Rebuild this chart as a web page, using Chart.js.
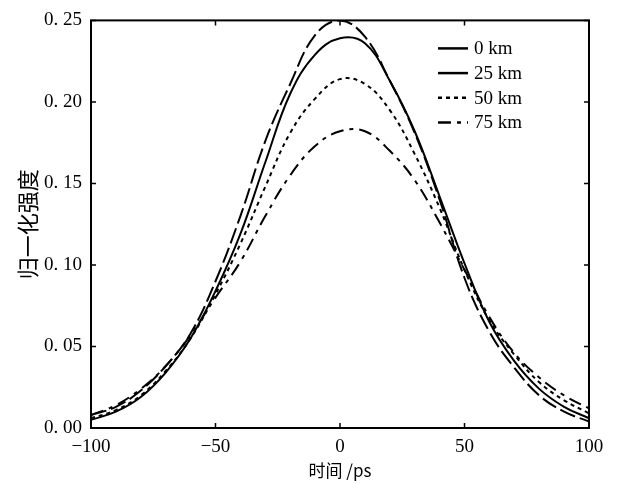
<!DOCTYPE html>
<html>
<head>
<meta charset="utf-8">
<script src="https://cdn.jsdelivr.net/npm/chart.js@4.4.1/dist/chart.umd.min.js"></script>
<style>
  html, body { margin: 0; padding: 0; background: #fff; }
  #wrap { width: 617px; height: 483px; }
</style>
</head>
<body>
<div id="wrap"><canvas id="pulseChart" width="617" height="483"></canvas></div>
<script>
// Time axis (ps) and the normalised intensity
const timePs = [-100, -90, -80, -70, -60, -50, -40, -30, -20, -10, 0, 10, 20, 30, 40, 50, 60, 70, 80, 90, 100];
const seriesLabels = ['0 km', '25 km', '50 km', '75 km'];
const km0  = [0.008, 0.013, 0.023, 0.038, 0.058, 0.090, 0.130, 0.176, 0.211, 0.241, 0.250, 0.240, 0.213, 0.181, 0.140, 0.092, 0.059, 0.037, 0.020, 0.010, 0.004];
const km25 = [0.005, 0.010, 0.019, 0.034, 0.055, 0.084, 0.119, 0.163, 0.205, 0.229, 0.239, 0.236, 0.213, 0.182, 0.142, 0.101, 0.065, 0.041, 0.024, 0.013, 0.006];
const km50 = [0.006, 0.011, 0.020, 0.035, 0.055, 0.082, 0.113, 0.148, 0.181, 0.202, 0.214, 0.211, 0.195, 0.168, 0.135, 0.097, 0.066, 0.045, 0.028, 0.017, 0.009];
const km75 = [0.008, 0.014, 0.024, 0.038, 0.057, 0.080, 0.102, 0.130, 0.155, 0.173, 0.182, 0.182, 0.170, 0.152, 0.126, 0.097, 0.068, 0.046, 0.031, 0.020, 0.012];
const xTicks = [-100, -50, 0, 50, 100];
const yTicks = [0, 0.05, 0.10, 0.15, 0.20, 0.25];

const serif = '"Liberation Serif", "DejaVu Serif", serif';
const cjk = '"Noto Sans CJK SC", "Liberation Serif", sans-serif';

function toPoints(values) {
    return timePs.map((t, i) => ({ x: t, y: values[i] }));
}

// Styles for the four curves (line dash in the plot, and in the legend)
const curveStyles = [
    { dash: [16, 5], legendDash: [] },
    { dash: [], legendDash: [] },
    { dash: [4, 4], legendDash: [4, 4] },
    { dash: [13, 6, 4, 6], legendDash: [13, 6, 4, 6] }
];
const allSeries = [km0, km25, km50, km75];

const datasets = allSeries.map((values, i) => ({
    label: seriesLabels[i],
    data: toPoints(values),
    borderColor: '#000',
    borderWidth: 2,
    borderDash: curveStyles[i].dash,
    legendDash: curveStyles[i].legendDash,
    pointRadius: 0,
    fill: false,
    tension: 0.4
}));

// Box around the plot with inward tick marks on all four sides
const frameTicks = {
    id: 'frameTicks',
    afterDraw(chart) {
        const { ctx, chartArea: a, scales } = chart;
        ctx.save();
        ctx.strokeStyle = '#000';
        ctx.lineWidth = 2;
        ctx.setLineDash([]);
        ctx.strokeRect(a.left, a.top, a.right - a.left, a.bottom - a.top);
        ctx.lineWidth = 1.5;
        const len = 5;
        xTicks.forEach(v => {
            const px = scales.x.getPixelForValue(v);
            ctx.beginPath();
            ctx.moveTo(px, a.bottom); ctx.lineTo(px, a.bottom - len);
            ctx.moveTo(px, a.top); ctx.lineTo(px, a.top + len);
            ctx.stroke();
        });
        yTicks.forEach(v => {
            const py = scales.y.getPixelForValue(v);
            ctx.beginPath();
            ctx.moveTo(a.left, py); ctx.lineTo(a.left + len, py);
            ctx.moveTo(a.right, py); ctx.lineTo(a.right - len, py);
            ctx.stroke();
        });
        ctx.restore();
    }
};

// Legend drawn inside the plot, top right
const insideLegend = {
    id: 'insideLegend',
    afterDraw(chart) {
        const { ctx, chartArea: a } = chart;
        ctx.save();
        ctx.font = '19px ' + serif;
        ctx.fillStyle = '#000';
        ctx.textBaseline = 'middle';
        chart.data.datasets.forEach((ds, i) => {
            const y = a.top + 28 + i * 24.7;
            const x0 = a.right - 151;
            ctx.strokeStyle = '#000';
            ctx.lineWidth = 2.5;
            ctx.setLineDash(ds.legendDash);
            ctx.beginPath();
            ctx.moveTo(x0, y);
            ctx.lineTo(x0 + 30, y);
            ctx.stroke();
            ctx.setLineDash([]);
            ctx.fillText(ds.label, x0 + 36, y + 1);
        });
        ctx.restore();
    }
};

const ctx = document.getElementById('pulseChart').getContext('2d');
const chart = new Chart(ctx, {
    type: 'line',
    data: { datasets: datasets },
    plugins: [frameTicks, insideLegend],
    options: {
        responsive: false,
        animation: false,
        layout: { padding: { left: 14, right: 28, top: 16, bottom: 0 } },
        plugins: {
            legend: { display: false },
            tooltip: { enabled: false }
        },
        scales: {
            x: {
                type: 'linear',
                min: -100,
                max: 100,
                afterBuildTicks: scale => { scale.ticks = xTicks.map(v => ({ value: v })); },
                afterFit: scale => { scale.height = 55; },
                grid: { display: false, drawTicks: false },
                border: { display: false },
                ticks: {
                    color: '#000',
                    padding: 8,
                    font: { family: serif, size: 19 },
                    callback: v => (v < 0 ? '\u2212' + Math.abs(v) : String(v))
                },
                title: {
                    display: true,
                    text: '时间 /ps',
                    color: '#000',
                    font: { family: cjk, size: 17 },
                    padding: { top: 0, bottom: 2 }
                }
            },
            y: {
                type: 'linear',
                min: 0,
                max: 0.25,
                afterBuildTicks: scale => { scale.ticks = yTicks.map(v => ({ value: v })); },
                afterFit: scale => { scale.width = 77; },
                grid: { display: false, drawTicks: false },
                border: { display: false },
                ticks: {
                    color: '#000',
                    padding: 9,
                    font: { family: serif, size: 19 },
                    callback: v => v.toFixed(2).replace('.', '. ')
                },
                title: {
                    display: true,
                    text: '归一化强度',
                    color: '#000',
                    font: { family: cjk, size: 22 },
                    padding: { top: 0, bottom: 0 }
                }
            }
        }
    }
});
</script>
</body>
</html>
